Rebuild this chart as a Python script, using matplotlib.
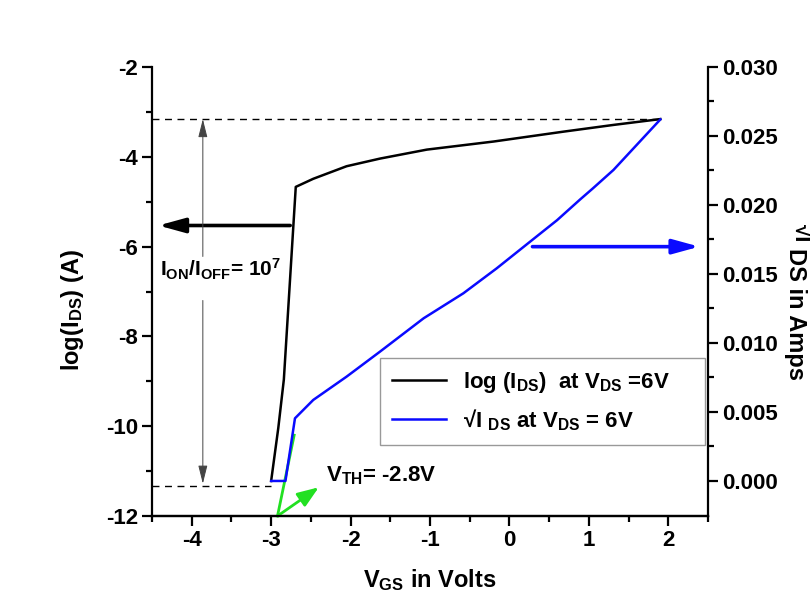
import numpy as np
import matplotlib
matplotlib.use("Agg")
from matplotlib import pyplot as plt
from matplotlib.lines import Line2D

# transfer curve
vgs_log = [-3.00, -2.91, -2.84, -2.69, -2.47, -2.05, -1.63, -1.04, -0.20, 0.68, 1.31, 1.90]
log_ids = [-11.22, -10.04, -8.96, -4.67, -4.49, -4.21, -4.04, -3.84, -3.66, -3.44, -3.29, -3.16]

vgs_sqrt = [-3.00, -2.82, -2.70, -2.47, -2.05, -1.63, -1.08, -0.58, -0.16, 0.26, 0.60, 0.89, 1.05, 1.31, 1.90]
sqrt_ids = [0.0, 0.0, 0.00454, 0.00587, 0.00756, 0.00937, 0.01179, 0.0136, 0.01541,
            0.01734, 0.0189, 0.0204, 0.0212, 0.02254, 0.0262]

# threshold tangent (log axis units)
vth_x = [-2.92, -2.71]
vth_y = [-12.0, -10.2]

i_on = -3.16
i_off = -11.33

plt.rcParams["font.family"] = ["Liberation Sans", "DejaVu Sans"]
plt.rcParams["font.weight"] = "bold"
plt.rcParams["axes.unicode_minus"] = False
plt.rcParams["mathtext.fontset"] = "custom"
plt.rcParams["mathtext.rm"] = "Liberation Sans:bold"
plt.rcParams["mathtext.bf"] = "Liberation Sans:bold"
plt.rcParams["mathtext.it"] = "Liberation Sans:bold"
plt.rcParams["mathtext.default"] = "bf"

FS = 16
LFS = 17

fig = plt.figure(figsize=(8.1, 6.02), dpi=100)
ax = fig.add_axes([152 / 810, 1 - 516 / 602, 556 / 810, 449 / 602])
ax2 = ax.twinx()

ax.plot(vgs_log, log_ids, color="black", lw=1.8, zorder=3)
ax2.plot(vgs_sqrt, sqrt_ids, color="#0a0aff", lw=1.8, zorder=3)
ax.plot(vth_x, vth_y, color="#22e022", lw=2, zorder=4, clip_on=False)

# on / off levels
ax.plot([-4.5, vgs_log[-1]], [i_on, i_on], color="black", lw=1, dashes=(5, 4))
ax.plot([-4.5, vgs_log[0]], [i_off, i_off], color="black", lw=1, dashes=(5, 4))

ax.set_xlim(-4.5, 2.5)
ax.set_ylim(-12, -2)
ax2.set_ylim(-0.00254, 0.030)

ax.set_xticks(np.arange(-4, 3, 1))
ax.set_xticks(np.arange(-4.5, 2.6, 0.5), minor=True)
ax.set_yticks(np.arange(-12, -1, 2))
ax.set_yticks(np.arange(-11, -2, 2), minor=True)
ax2.set_yticks(np.arange(0, 0.0301, 0.005))
ax2.set_yticks(np.arange(0.0025, 0.030, 0.005), minor=True)
ax2.set_yticklabels([f"{v:.3f}" for v in np.arange(0, 0.0301, 0.005)])

for a in (ax, ax2):
    a.spines["top"].set_visible(False)
    for s in a.spines.values():
        s.set_linewidth(1.6)
    a.tick_params(which="major", direction="out", length=7, width=1.6, labelsize=FS, pad=3)
    a.tick_params(which="minor", direction="out", length=4, width=1.6)
ax.spines["right"].set_visible(False)
ax2.spines["left"].set_visible(False)

# arrows pointing to the axes
ax.annotate("", xy=(-4.42, -5.53), xytext=(-2.76, -5.53),
            arrowprops=dict(arrowstyle="-|>,head_length=0.8,head_width=0.22",
                            lw=2.6, color="black", mutation_scale=20, shrinkA=0, shrinkB=0))
ax2.annotate("", xy=(2.39, 0.01698), xytext=(0.29, 0.01698),
             arrowprops=dict(arrowstyle="-|>,head_length=0.8,head_width=0.22",
                             lw=2.6, color="#0a0aff", mutation_scale=20, shrinkA=0, shrinkB=0))
ax.annotate("", xy=(-2.40, -11.36), xytext=(-2.92, -12.0), annotation_clip=False,
            arrowprops=dict(arrowstyle="-|>,head_length=0.8,head_width=0.3",
                            lw=2, color="#22e022", mutation_scale=16, shrinkA=0, shrinkB=0))

# on/off ratio marker
ax.annotate("", xy=(-3.86, i_on), xytext=(-3.86, -6.22),
            arrowprops=dict(arrowstyle="-|>,head_length=0.8,head_width=0.2",
                            lw=0.7, color="#444444", mutation_scale=14, shrinkA=0, shrinkB=0))
ax.annotate("", xy=(-3.86, i_off + 0.05), xytext=(-3.86, -7.2),
            arrowprops=dict(arrowstyle="-|>,head_length=0.8,head_width=0.2",
                            lw=0.7, color="#444444", mutation_scale=14, shrinkA=0, shrinkB=0))
ax.text(-4.40, -6.66, r"I$_{ON}$/I$_{OFF}$= 10$^{7}$", fontsize=15, fontweight="bold",
        ha="left", va="baseline")
ax.text(-2.31, -11.22, r"V$_{TH}$= -2.8V", fontsize=FS, fontweight="bold",
        ha="left", va="baseline")

handles = [Line2D([], [], color="black", lw=1.8), Line2D([], [], color="#0a0aff", lw=1.8)]
labels = [r"log (I$_{DS}$)  at V$_{DS}$ =6V", "\u221aI $_{DS}$ at V$_{DS}$ = 6V"]
leg = ax2.legend(handles, labels, loc="lower left", bbox_to_anchor=(0.41, 0.158, 0.585, 0.185),
                 mode="expand", prop=dict(size=FS, weight="bold"), frameon=True, fancybox=False,
                 edgecolor="#999999", framealpha=1, handlelength=2.4, labelspacing=0.55,
                 borderpad=0.55, borderaxespad=0)
leg.get_frame().set_linewidth(1.0)
leg.set_zorder(5)

fig.text(430 / 810, 1 - 580 / 602, r"V$_{GS}$ in Volts", fontsize=LFS, fontweight="bold",
         ha="center", va="center")
fig.text(73 / 810, 1 - 310 / 602, r"log(I$_{DS}$) (A)", fontsize=LFS, fontweight="bold",
         ha="center", va="center", rotation=90)
fig.text(795 / 810, 1 - 314 / 602, "DS in Amps", fontsize=LFS, fontweight="bold",
         ha="center", va="center", rotation=270)
fig.text(801 / 810, 1 - 233 / 602, "\u221aI", fontsize=FS, fontweight="bold",
         ha="center", va="center", rotation=270)

fig.savefig("out.png", dpi=100, facecolor="white")
